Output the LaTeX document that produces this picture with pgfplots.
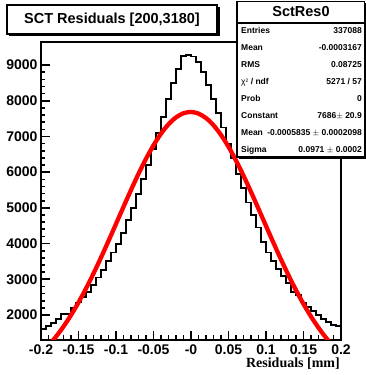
\documentclass[border=0pt]{standalone}
\usepackage{fontspec}
\setmainfont{Liberation Sans}
\newfontfamily\timesfont{Liberation Serif}
\usepackage{pgfplots}
\pgfplotsset{compat=1.18}
\begin{document}
\begin{tikzpicture}[x=1pt,y=1pt]
\begin{axis}[
  at={(41pt,35pt)}, anchor=south west,
  scale only axis, width=300pt, height=298pt,
  xmin=-0.2, xmax=0.2, ymin=1300, ymax=9645,
  axis line style={line width=1.8pt},
  tick align=inside, tick pos=left,
  major tick length=9pt, minor tick length=4.5pt,
  every tick/.style={black, line width=1.6pt},
  xtick={-0.2,-0.15,-0.1,-0.05,0,0.05,0.1,0.15,0.2},
  xticklabels={-0.2,-0.15,-0.1,-0.05,-0,0.05,0.1,0.15,0.2},
  ytick={2000,3000,4000,5000,6000,7000,8000,9000},
  yticklabels={2000,3000,4000,5000,6000,7000,8000,9000},
  minor x tick num=4, minor y tick num=4,
  ticklabel style={font=\fontsize{14}{14}\selectfont\bfseries},
  xticklabel style={yshift=-1pt},
  clip=true,
]
\addplot[const plot, black, line width=1.9pt] coordinates {
(-0.2,1600) (-0.19333,1680) (-0.18667,1780) (-0.18,1900) (-0.17333,2020) (-0.16667,2020)
(-0.16,2200) (-0.15333,2350) (-0.14667,2500) (-0.14,2650) (-0.13333,2850) (-0.12667,3050)
(-0.12,3250) (-0.11333,3500) (-0.10667,3750) (-0.1,4000) (-0.09333,4300) (-0.08667,4650)
(-0.08,5000) (-0.07333,5400) (-0.06667,5800) (-0.06,6200) (-0.05333,6650) (-0.04667,7100)
(-0.04,7550) (-0.03333,8050) (-0.02667,8500) (-0.02,8900) (-0.01333,9250) (-0.00667,9270)
(0,9240) (0.00667,9090) (0.01333,8800) (0.02,8450) (0.02667,8050) (0.03333,7650)
(0.04,7250) (0.04667,6800) (0.05333,6400) (0.06,5950) (0.06667,5550) (0.07333,5150)
(0.08,4800) (0.08667,4450) (0.09333,4050) (0.1,3750) (0.10667,3500) (0.11333,3300)
(0.12,3100) (0.12667,2900) (0.13333,2650) (0.14,2560) (0.14667,2350) (0.15333,2220)
(0.16,2100) (0.16667,2000) (0.17333,1900) (0.18,1800) (0.18667,1730) (0.19333,1680)
(0.2,1680)
};
\addplot[red, line width=4.3pt, smooth] coordinates {
(-0.2,933) (-0.19,1146) (-0.18,1394) (-0.17,1677) (-0.16,1997) (-0.15,2352) (-0.14,2742)
(-0.13,3162) (-0.12,3608) (-0.11,4073) (-0.1,4551) (-0.09,5030) (-0.08,5501) (-0.07,5953)
(-0.06,6374) (-0.05,6752) (-0.04,7078) (-0.03,7341) (-0.02,7534) (-0.01,7650) (0,7686)
(0.01,7640) (0.02,7515) (0.03,7314) (0.04,7043) (0.05,6711) (0.06,6327) (0.07,5902)
(0.08,5447) (0.09,4974) (0.1,4495) (0.11,4019) (0.12,3555) (0.13,3112) (0.14,2695)
(0.15,2309) (0.16,1958) (0.17,1643) (0.18,1363) (0.19,1120) (0.2,910)
};
\end{axis}
% x label
\node[anchor=base east, inner sep=0pt, font=\timesfont\fontsize{14}{14}\selectfont\bfseries] at (340,8) {Residuals [mm]};
% title box
\fill[black] (9,339) rectangle (219.5,368);
\draw[line width=1.5pt, fill=white] (7,341) rectangle (217,370);
\node[font=\fontsize{14.5}{14.5}\selectfont\bfseries, inner sep=0pt] at (112,355.5) {SCT Residuals [200,3180]};
% stats box
\fill[black] (239,215.5) rectangle (366,372);
\draw[line width=1.2pt, fill=white] (237,218) rectangle (364.5,373.8);
\draw[line width=1.2pt] (237,352) -- (364.5,352);
\node[font=\fontsize{14.5}{14.5}\selectfont\bfseries, inner sep=0pt] at (301,363) {SctRes0};
\begin{scope}[every node/.style={inner sep=0pt, font=\fontsize{8.5}{8.5}\selectfont\bfseries}]
\node[anchor=base west] at (241,341.3) {Entries};
\node[anchor=base east] at (362,341.3) {337088};
\node[anchor=base west] at (241,324.4) {Mean};
\node[anchor=base east] at (362,324.4) {-0.0003167};
\node[anchor=base west] at (241,307.4) {RMS};
\node[anchor=base east] at (362,307.4) {0.08725};
\node[anchor=base west] at (241,290.5) {\fontseries{m}\selectfont χ\raisebox{1.5pt}{\fontsize{5}{5}\selectfont 2}\bfseries\ / ndf};
\node[anchor=base east] at (362,290.5) {5271 / 57};
\node[anchor=base west] at (241,273.5) {Prob};
\node[anchor=base east] at (362,273.5) {0};
\node[anchor=base west] at (241,256.6) {Constant};
\node[anchor=base east] at (362,256.6) {7686$\pm$ 20.9};
\node[anchor=base west] at (241,239.7) {Mean};
\node[anchor=base east] at (362,239.7) {-0.0005835 $\pm$ 0.0002098};
\node[anchor=base west] at (241,222.7) {Sigma};
\node[anchor=base east] at (362,222.7) {0.0971 $\pm$ 0.0002};
\end{scope}
\pgfresetboundingbox
\useasboundingbox (0,0) rectangle (366,375);
\end{tikzpicture}
\end{document}
